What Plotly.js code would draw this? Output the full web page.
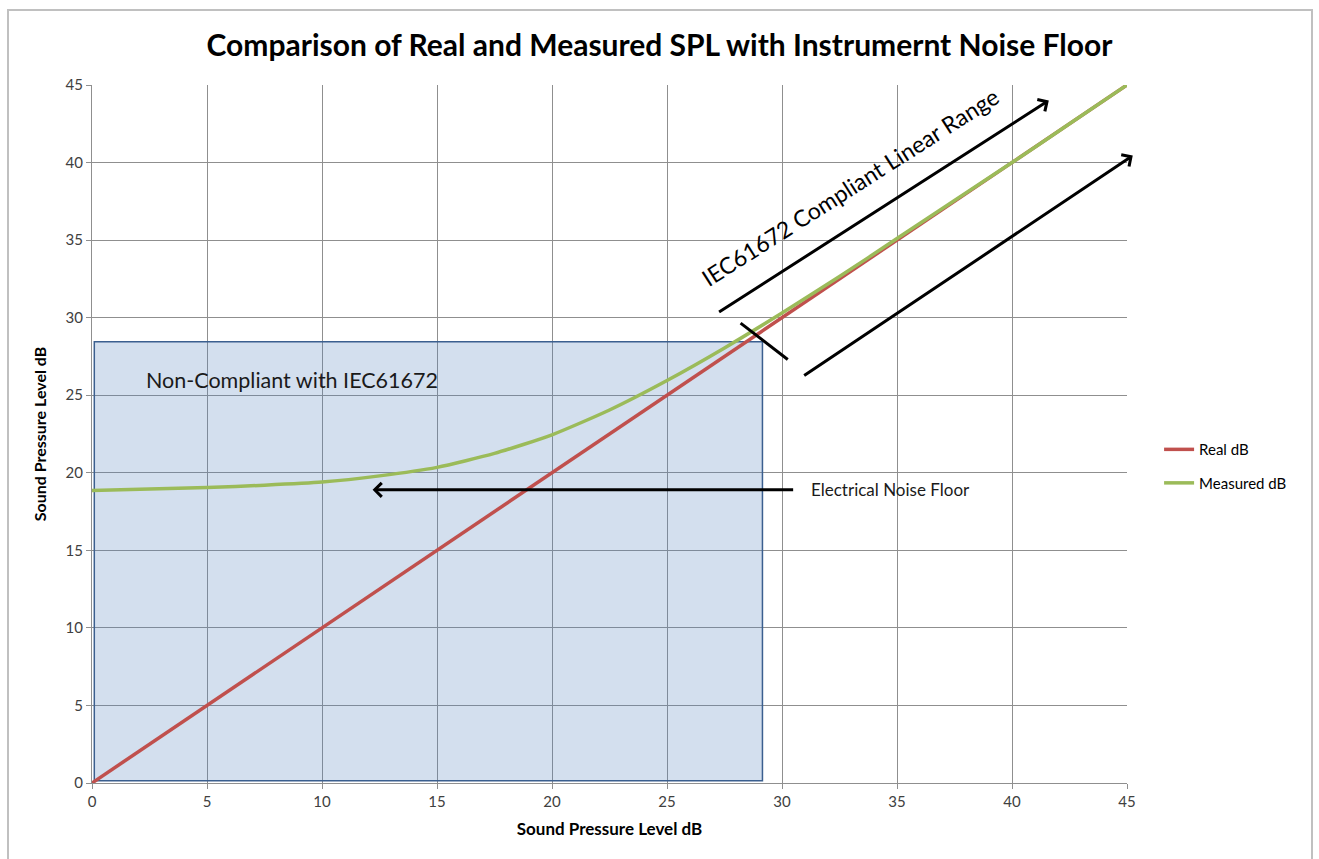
<!DOCTYPE html>
<html>
<head>
<meta charset="utf-8">
<script src="https://cdn.plot.ly/plotly-3.0.1.min.js"></script>
<style>
  html, body { margin: 0; padding: 0; background: #ffffff; }
  #chart { width: 1319px; height: 859px; }
</style>
</head>
<body>
<div id="chart"></div>
<script>
// ---- Data ----
const splLevels   = [0, 2.5, 5, 7.5, 10, 12.5, 15, 17.5, 20, 22.5, 25, 27.5, 30, 32.5, 35, 37.5, 40, 42.5, 45];
const realDb      = [0, 2.5, 5, 7.5, 10, 12.5, 15, 17.5, 20, 22.5, 25, 27.5, 30, 32.5, 35, 37.5, 40, 42.5, 45];
const measuredDb  = [18.85, 18.95, 19.05, 19.2, 19.4, 19.8, 20.35, 21.25, 22.45, 24.05, 25.95, 28.05, 30.3, 32.65, 35.1, 37.55, 40.0, 42.5, 45.0];
const tickValues  = [0, 5, 10, 15, 20, 25, 30, 35, 40, 45];
const seriesNames = ["Real dB", "Measured dB"];

// Region & annotation anchors (data units)
const nonCompliantBox = {x0: 0.1, y0: 0.15, x1: 29.15, y1: 28.45};
const noiseArrow  = {tailX: 30.55, tailY: 18.9, headX: 12.2, headY: 18.9};
const upperArrow  = {tailX: 27.2, tailY: 30.3, headX: 41.6, headY: 44.0};
const lowerArrow  = {tailX: 30.9, tailY: 26.2, headX: 45.25, headY: 40.45};
const limitTick   = {x0: 28.2, y0: 29.65, x1: 30.25, y1: 27.3};

const FONT = "Lato, 'Open Sans', sans-serif";

const traces = [
  {
    x: splLevels, y: realDb, name: seriesNames[0], type: "scatter", mode: "lines",
    line: {color: "#c0504d", width: 3.5}, legendgroup: "a"
  },
  {
    x: splLevels, y: measuredDb, name: seriesNames[1], type: "scatter", mode: "lines",
    line: {color: "#9bbb59", width: 3.5, shape: "spline", smoothing: 0.6}, legendgroup: "b"
  }
];

function arrow(a) {
  return {
    x: a.headX, y: a.headY, ax: a.tailX, ay: a.tailY,
    xref: "x", yref: "y", axref: "x", ayref: "y",
    text: "", showarrow: true, arrowhead: 4, arrowsize: 0.9,
    arrowwidth: 3, arrowcolor: "#000000"
  };
}

const layout = {
  width: 1319, height: 859,
  margin: {l: 92, r: 192, t: 85, b: 76},
  paper_bgcolor: "#ffffff",
  plot_bgcolor: "#ffffff",
  font: {family: FONT, color: "#404040", size: 15},
  title: {
    text: "<b>Comparison of Real and Measured SPL with Instrumernt Noise Floor</b>",
    font: {family: FONT, size: 30, color: "#000000"},
    x: 0.5, xref: "container", y: 1 - 45/859, yref: "container", yanchor: "middle"
  },
  xaxis: {
    range: [0, 45], tickvals: tickValues, ticktext: tickValues.map(String),
    showgrid: true, gridcolor: "#8f8f8f", gridwidth: 1,
    showline: true, linecolor: "#8f8f8f", linewidth: 1,
    ticks: "outside", ticklen: 5, tickcolor: "#8f8f8f",
    zeroline: false, fixedrange: true,
    tickfont: {family: FONT, size: 15, color: "#404040"},
    title: {text: "<b>Sound Pressure Level dB</b>", font: {family: FONT, size: 17, color: "#000000"}, standoff: 14}
  },
  yaxis: {
    range: [0, 45], tickvals: tickValues, ticktext: tickValues.map(String),
    showgrid: true, gridcolor: "#8f8f8f", gridwidth: 1,
    showline: true, linecolor: "#8f8f8f", linewidth: 1,
    ticks: "outside", ticklen: 5, tickcolor: "#8f8f8f",
    zeroline: false, fixedrange: true,
    tickfont: {family: FONT, size: 15, color: "#404040"},
    title: {text: "<b>Sound Pressure Level dB</b>", font: {family: FONT, size: 16, color: "#000000"}, standoff: 14}
  },
  showlegend: true,
  legend: {
    x: 1.031, xanchor: "left", y: 0.454, yanchor: "middle",
    font: {family: FONT, size: 15, color: "#000000"},
    bgcolor: "rgba(0,0,0,0)", traceorder: "grouped", tracegroupgap: 11
  },
  shapes: [
    {
      type: "rect", xref: "paper", yref: "paper",
      x0: (8 - 92) / 1035, x1: (1312 - 92) / 1035,
      y0: (783 - 880) / 698, y1: (783 - 10) / 698,
      line: {color: "#c0c0c0", width: 2}, fillcolor: "rgba(0,0,0,0)", layer: "below"
    },
    {
      type: "rect", xref: "x", yref: "y",
      x0: nonCompliantBox.x0, x1: nonCompliantBox.x1, y0: nonCompliantBox.y0, y1: nonCompliantBox.y1,
      line: {color: "#3b5f8f", width: 1.5}, fillcolor: "rgba(79,129,189,0.25)", layer: "between"
    },
    {
      type: "line", xref: "x", yref: "y",
      x0: limitTick.x0, y0: limitTick.y0, x1: limitTick.x1, y1: limitTick.y1,
      line: {color: "#000000", width: 3}
    }
  ],
  annotations: [
    arrow(noiseArrow), arrow(upperArrow), arrow(lowerArrow),
    {
      x: 8.7, y: 25.95, xref: "x", yref: "y", showarrow: false,
      text: "Non-Compliant with IEC61672",
      font: {family: FONT, size: 21.5, color: "#1a1a1a"}
    },
    {
      x: 34.7, y: 18.9, xref: "x", yref: "y", showarrow: false,
      text: "Electrical Noise Floor",
      font: {family: FONT, size: 17, color: "#1a1a1a"}
    },
    {
      x: 32.95, y: 38.4, xref: "x", yref: "y", showarrow: false,
      text: "IEC61672 Compliant Linear Range", textangle: -32.5,
      font: {family: FONT, size: 23, color: "#000000"}
    }
  ]
};

Plotly.newPlot("chart", traces, layout, {displayModeBar: false, staticPlot: true});
</script>
</body>
</html>
